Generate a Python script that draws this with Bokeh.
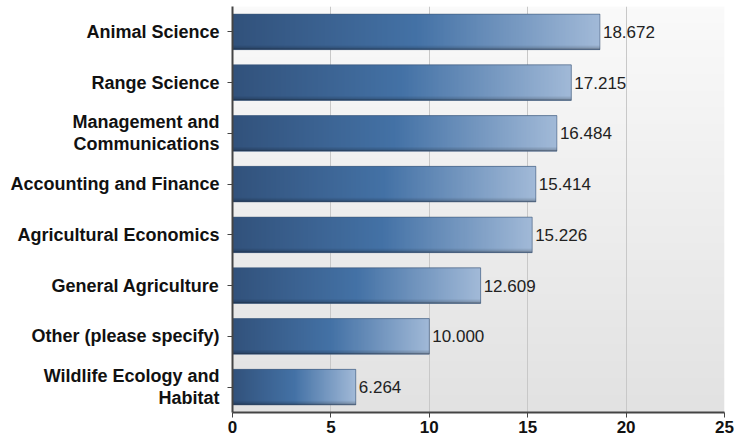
import numpy as np
from bokeh.plotting import figure
from bokeh.models import Range1d, FixedTicker, ColumnDataSource
from bokeh.core.properties import value
from bokeh.embed import file_html
from bokeh.resources import INLINE

categories = [
    "Animal Science",
    "Range Science",
    "Management and\nCommunications",
    "Accounting and Finance",
    "Agricultural Economics",
    "General Agriculture",
    "Other (please specify)",
    "Wildlife Ecology and\nHabitat",
]
values = [18.672, 17.215, 16.484, 15.414, 15.226, 12.609, 10.000, 6.264]
x_ticks = [0, 5, 10, 15, 20, 25]

n = len(categories)
positions = [n - 0.5 - i for i in range(n)]
bar_h = 0.7
FONT = "Liberation Sans"

p = figure(width=734, height=440, output_backend="svg", toolbar_location=None,
           x_range=Range1d(0, 25), y_range=Range1d(0, n),
           min_border_left=232, min_border_right=10, min_border_top=6,
           min_border_bottom=28)
p.outline_line_color = None
p.background_fill_color = "white"

# plot-area background gradient (top light, bottom grey)
rows = 120
bg = np.zeros((rows, 2), dtype=np.uint32)
bgv = bg.view(dtype=np.uint8).reshape((rows, 2, 4))
for r in range(rows):
    t = r / (rows - 1)  # 0 = bottom, 1 = top
    c = int(226 + (250 - 226) * t)
    bgv[r, :, 0] = c
    bgv[r, :, 1] = c
    bgv[r, :, 2] = c
    bgv[r, :, 3] = 255
bg_r = p.image_rgba(image=[bg], x=0, y=0, dw=25, dh=n)
bg_r.level = "image"

# bars: gradient images
cols, brows = 256, 36
stops_t = [0.0, 0.5, 1.0]
stops_c = [(50, 82, 124), (68, 114, 166), (162, 186, 216)]
img = np.zeros((brows, cols), dtype=np.uint32)
v = img.view(dtype=np.uint8).reshape((brows, cols, 4))
xs = np.linspace(0, 1, cols)
base = np.stack([np.interp(xs, stops_t, [c[k] for c in stops_c]) for k in range(3)], axis=-1)
for r in range(brows):
    if r == 0:
        f = 0.62
    elif r < 4:
        f = 0.78 + 0.22 * (r / 4.0)
    elif r == brows - 1:
        f = 1.15
    else:
        f = 1.0
    row = np.clip(base * f, 0, 255)
    v[r, :, 0:3] = row.astype(np.uint8)
    v[r, :, 3] = 255

src = ColumnDataSource(dict(
    y=positions, right=values,
    ybot=[pp - bar_h / 2 for pp in positions],
    img=[img] * n,
    label=["%.3f" % vv for vv in values],
))
p.hbar(y="y", right="right", left=0, height=bar_h, source=src,
       fill_color="#4472a6", line_color=None)
p.image_rgba(image="img", x=0, y="ybot", dw="right", dh=bar_h, source=src)
p.hbar(y="y", right="right", left=0, height=bar_h, source=src,
       fill_alpha=0, line_color="#3c5270", line_alpha=0.5, line_width=1)

p.text(x="right", y="y", text="label", source=src, x_offset=3,
       text_baseline="middle", text_align="left",
       text_font=value(FONT), text_font_size="17px", text_color="#222222")

# grid
p.ygrid.grid_line_color = None
p.xgrid.grid_line_color = "#c8c8c8"
p.xgrid.grid_line_width = 1
p.xgrid.ticker = FixedTicker(ticks=x_ticks)

# x axis
p.xaxis.ticker = FixedTicker(ticks=x_ticks)
p.xaxis.axis_line_color = "#444444"
p.xaxis.axis_line_width = 2
p.xaxis.major_tick_line_color = "#444444"
p.xaxis.major_tick_in = 0
p.xaxis.major_tick_out = 5
p.xaxis.minor_tick_line_color = None
p.xaxis.major_label_text_font = FONT
p.xaxis.major_label_text_font_style = "bold"
p.xaxis.major_label_text_font_size = "17px"
p.xaxis.major_label_text_color = "#111111"
p.xaxis.major_label_standoff = 3

# y axis
p.yaxis.ticker = FixedTicker(ticks=positions)
p.yaxis.major_label_overrides = {pp: c for pp, c in zip(positions, categories)}
p.yaxis.axis_line_color = "#444444"
p.yaxis.axis_line_width = 2
p.yaxis.major_tick_line_color = "#444444"
p.yaxis.major_tick_in = 0
p.yaxis.major_tick_out = 5
p.yaxis.minor_tick_line_color = None
p.yaxis.major_label_text_font = FONT
p.yaxis.major_label_text_font_style = "bold"
p.yaxis.major_label_text_font_size = "18px"
p.yaxis.major_label_text_color = "#111111"
p.yaxis.major_label_standoff = 8
p.yaxis.major_label_text_line_height = 1.1

open("out.html", "w").write(file_html(p, INLINE))
